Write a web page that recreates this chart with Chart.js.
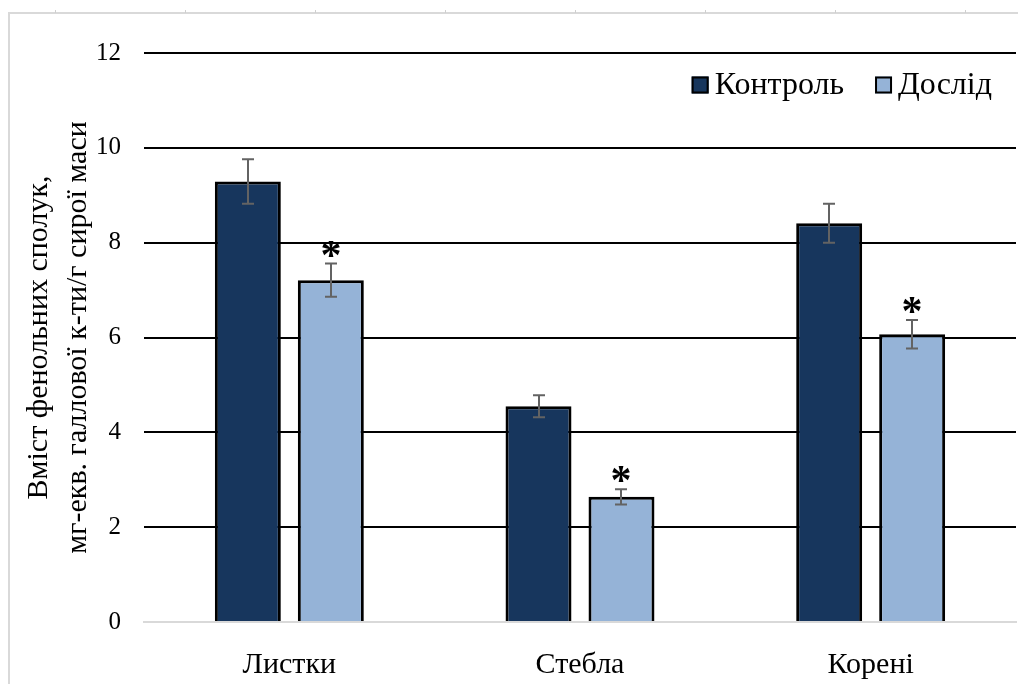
<!DOCTYPE html>
<html lang="uk">
<head>
<meta charset="utf-8">
<title>Вміст фенольних сполук</title>
<script src="https://cdn.jsdelivr.net/npm/chart.js@4/dist/chart.umd.min.js"></script>
<style>
  html, body { margin: 0; padding: 0; background: #ffffff; }
  #wrap { width: 1018px; height: 684px; position: relative; }
</style>
</head>
<body>
<div id="wrap"><canvas id="chart" width="1018" height="684"></canvas></div>
<script>
// Органи рослини
const categories = ['Листки', 'Стебла', 'Корені'];

// Середні значення, мг-екв. галлової к-ти/г сирої маси
const controlValues = [9.29, 4.55, 8.41];
const experimentValues = [7.21, 2.64, 6.07];

// Похибки (±)
const controlErrors = [0.47, 0.23, 0.41];
const experimentErrors = [0.35, 0.16, 0.30];

// Достовірна різниця з контролем
const controlSignificant = [false, false, false];
const experimentSignificant = [true, true, true];

// Поділки осі Y
const yTicks = [0, 2, 4, 6, 8, 10, 12];

const seriesLabels = ['Контроль', 'Дослід'];
const FONT = "'Liberation Serif', 'Times New Roman', serif";

// Рамка сторінки з рисками зверху
const framePlugin = {
  id: 'frame',
  beforeDraw(chart) {
    const ctx = chart.ctx;
    ctx.save();
    ctx.strokeStyle = '#d9d9d9';
    ctx.lineWidth = 2;
    ctx.beginPath();
    ctx.moveTo(9, 684);
    ctx.lineTo(9, 13);
    ctx.lineTo(1018, 13);
    ctx.stroke();
    ctx.lineWidth = 1;
    ctx.strokeStyle = '#cfcfcf';
    for (let x = 55; x < 1018; x += 130) {
      ctx.beginPath();
      ctx.moveTo(x + 0.5, 10);
      ctx.lineTo(x + 0.5, 13);
      ctx.stroke();
    }
    ctx.restore();
  }
};

// Планки похибок та позначки достовірності
const errorBarPlugin = {
  id: 'errorBars',
  afterDatasetsDraw(chart) {
    const ctx = chart.ctx;
    const y = chart.scales.y;
    const errs = [controlErrors, experimentErrors];
    const sig = [controlSignificant, experimentSignificant];
    ctx.save();
    chart.data.datasets.forEach((ds, di) => {
      const meta = chart.getDatasetMeta(di);
      meta.data.forEach((bar, i) => {
        const v = ds.data[i];
        const e = errs[di][i];
        const x = Math.round(bar.x);
        const top = y.getPixelForValue(v + e);
        const bot = y.getPixelForValue(v - e);
        ctx.strokeStyle = '#636363';
        ctx.lineWidth = 2;
        ctx.beginPath();
        ctx.moveTo(x, top);
        ctx.lineTo(x, bot);
        ctx.moveTo(x - 6, top);
        ctx.lineTo(x + 6, top);
        ctx.moveTo(x - 6, bot);
        ctx.lineTo(x + 6, bot);
        ctx.stroke();
        if (sig[di][i]) {
          ctx.fillStyle = '#000000';
          ctx.font = 'bold 42px ' + FONT;
          ctx.textAlign = 'center';
          ctx.textBaseline = 'alphabetic';
          const m = ctx.measureText('*');
          const h = m.actualBoundingBoxAscent + m.actualBoundingBoxDescent;
          const cy = top - 15;
          ctx.fillText('*', x, cy + h / 2 - m.actualBoundingBoxDescent);
        }
      });
    });
    ctx.restore();
  }
};

// Легенда у верхньому правому куті
const legendPlugin = {
  id: 'customLegend',
  afterDraw(chart) {
    const ctx = chart.ctx;
    const area = chart.chartArea;
    ctx.save();
    ctx.font = '32px ' + FONT;
    ctx.textBaseline = 'middle';
    ctx.textAlign = 'left';
    const box = 17, gapBox = 6, gapItem = 31;
    const widths = chart.data.datasets.map(ds => ctx.measureText(ds.label).width);
    let total = 0;
    widths.forEach((w, i) => { total += box + gapBox + w + (i < widths.length - 1 ? gapItem : 0); });
    let x = area.right - 24 - total;
    const cy = 85;
    chart.data.datasets.forEach((ds, i) => {
      ctx.fillStyle = ds.backgroundColor;
      ctx.fillRect(x, cy - box / 2, box, box);
      ctx.strokeStyle = '#000000';
      ctx.lineWidth = 2;
      ctx.strokeRect(x + 1, cy - box / 2 + 1, box - 2, box - 2);
      ctx.fillStyle = '#000000';
      ctx.fillText(ds.label, x + box + gapBox, cy + 1);
      x += box + gapBox + widths[i] + gapItem;
    });
    ctx.restore();
  }
};

new Chart(document.getElementById('chart'), {
  type: 'bar',
  data: {
    labels: categories,
    datasets: [
      {
        label: seriesLabels[0],
        data: controlValues,
        backgroundColor: '#17365d',
        borderColor: '#000000',
        borderWidth: 3
      },
      {
        label: seriesLabels[1],
        data: experimentValues,
        backgroundColor: '#95b3d7',
        borderColor: '#000000',
        borderWidth: 3
      }
    ]
  },
  options: {
    responsive: false,
    animation: false,
    events: [],
    layout: { padding: { left: 0, top: 53, right: 2, bottom: 0 } },
    datasets: {
      bar: { categoryPercentage: 0.571, barPercentage: 0.795 }
    },
    plugins: {
      legend: { display: false },
      tooltip: { enabled: false }
    },
    scales: {
      x: {
        grid: { display: false, drawTicks: false },
        border: { display: true, color: '#d9d9d9', width: 2 },
        ticks: {
          color: '#000000',
          font: { family: FONT, size: 30 },
          padding: 25
        },
        afterFit(scale) { scale.height = 62; }
      },
      y: {
        min: 0,
        max: 12,
        afterBuildTicks(scale) { scale.ticks = yTicks.map(v => ({ value: v })); },
        grid: {
          drawTicks: false,
          tickLength: 0,
          lineWidth: 2,
          color: ctx => (ctx.tick && ctx.tick.value === 0 ? '#d9d9d9' : '#000000')
        },
        border: { display: false },
        ticks: {
          color: '#000000',
          font: { family: FONT, size: 25 },
          padding: 23
        },
        title: {
          display: true,
          text: ['Вміст фенольних сполук,', 'мг-екв. галлової к-ти/г сирої маси'],
          color: '#000000',
          font: { family: FONT, size: 30, lineHeight: 1.3 },
          padding: { top: 20, bottom: 0 }
        },
        afterFit(scale) { scale.width = 144; }
      }
    }
  },
  plugins: [framePlugin, errorBarPlugin, legendPlugin]
});
</script>
</body>
</html>
